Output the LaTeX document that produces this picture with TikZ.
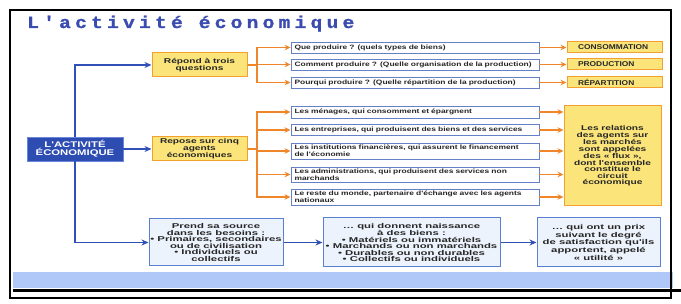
\documentclass[tikz,border=0pt]{standalone}
\usepackage{fontspec}
\setmainfont{Liberation Sans}
\newfontfamily\titlefont[UprightFont={* Bold},FakeBold=1.2,FakeStretch=1.15,LetterSpace=25]{Liberation Mono}
\newfontfamily\widefont[FakeStretch=1.45]{Liberation Sans}
\newfontfamily\widerfont[FakeStretch=1.62]{Liberation Sans}
\newfontfamily\smallfont[FakeStretch=1.34]{Liberation Sans}
\newfontfamily\capsfont[FakeStretch=1.2]{Liberation Sans}
\newfontfamily\mainfont[FakeStretch=1.38]{Liberation Sans}
\usetikzlibrary{arrows.meta}

\definecolor{titleblue}{HTML}{3A4CAF}
\definecolor{mainblue}{HTML}{2D4DB3}
\definecolor{mainedge}{HTML}{6A86D8}
\definecolor{linkblue}{HTML}{3050B8}
\definecolor{orng}{HTML}{F0862A}
\definecolor{yfill}{HTML}{FBE57A}
\definecolor{yedge}{HTML}{F2A030}
\definecolor{qedge}{HTML}{6680C8}
\definecolor{bfill}{HTML}{EDF3FC}
\definecolor{bedge}{HTML}{5B80D0}
\definecolor{band}{HTML}{AFC8F8}
\definecolor{ink}{HTML}{262626}

\begin{document}
\begin{tikzpicture}[x=1pt,y=-1pt,
  boxtext/.style={font=\widefont\bfseries\fontsize{7}{6.5}\selectfont, text=ink, align=center},
  ybox/.style={boxtext, draw=yedge, fill=yfill, line width=1pt, inner sep=0pt},
  bbox/.style={boxtext, font=\widerfont\bfseries\fontsize{7}{6.5}\selectfont,
    draw=bedge, fill=bfill, line width=1pt, inner sep=0pt},
  qbox/.style={draw=qedge, fill=white, line width=0.9pt, minimum width=248pt,
    inner xsep=3.5pt, inner ysep=0pt, text width=241pt, align=left, text=ink,
    font=\smallfont\bfseries\fontsize{6.3}{6.7}\selectfont},
  rbox/.style={draw=yedge, fill=yfill, line width=1pt, minimum width=95pt,
    minimum height=11pt, inner xsep=11pt, inner ysep=0pt, text width=73pt,
    align=left, text=ink, font=\capsfont\bfseries\fontsize{7}{7}\selectfont},
  mainbox/.style={draw=mainedge, fill=mainblue, line width=0.8pt, text=white,
    minimum width=96pt, minimum height=24pt, inner sep=0pt, align=center,
    font=\mainfont\bfseries\fontsize{8.2}{7}\selectfont},
  bline/.style={draw=linkblue, line width=1.8pt},
  barr/.style={bline, -{Stealth[length=7pt,width=6pt]}},
  oline/.style={draw=orng, line width=1.6pt},
  oarr/.style={oline, -{Stealth[length=6pt,width=5.5pt]}}]
\useasboundingbox (0,0) rectangle (681,304);

% bottom band and frame
\fill[band] (13,272) rectangle (673,288);
\draw[line width=2.5pt] (13,290.5) -- (681,290.5);
\draw[line width=1.3pt] (10,10) rectangle (671,298);

% title
\node[anchor=base west, inner sep=0pt, text=titleblue,
  font=\titlefont\fontsize{17}{17}\selectfont] (title) at (27,28)
  {L'activité économique};

% central box
\node[mainbox] (main) at (75,149) {L'ACTIVITÉ\\ÉCONOMIQUE};

% first level
\node[ybox, minimum width=95pt, minimum height=24pt] (q0) at (199.5,65)
  {Répond à trois\\questions};
\node[ybox, minimum width=95pt, minimum height=24pt] (a0) at (199.5,149)
  {Repose sur cinq\\agents\\économiques};

% three questions
\node[qbox, minimum height=11pt] (q1) at (415,47.5) {Que produire ? (quels types de biens)};
\node[qbox, minimum height=11pt] (q2) at (415,64.5) {Comment produire ? (Quelle organisation de la production)};
\node[qbox, minimum height=11pt] (q3) at (415,82.5) {Pourqui produire ? (Quelle répartition de la production)};

\node[rbox] (r1) at (614.5,47.5) {CONSOMMATION};
\node[rbox] (r2) at (614.5,64.5) {PRODUCTION};
\node[rbox] (r3) at (614.5,82.5) {RÉPARTITION};

% five agents
\node[qbox, minimum height=12pt] (g1) at (415,112) {Les ménages, qui consomment et épargnent};
\node[qbox, minimum height=11pt] (g2) at (415,130) {Les entreprises, qui produisent des biens et des services};
\node[qbox, minimum height=16pt] (g3) at (415,151) {Les institutions financières, qui assurent le financement\\de l'économie};
\node[qbox, minimum height=15pt] (g4) at (415,174.5) {Les administrations, qui produisent des services non\\marchands};
\node[qbox, minimum height=16pt] (g5) at (415,197) {Le reste du monde, partenaire d'échange avec les agents\\nationaux};

\node[ybox, minimum width=97pt, minimum height=100pt] (flux) at (612.5,156)
  {Les relations\\des agents sur\\les marchés\\sont appelées\\des « flux »,\\dont l'ensemble\\constitue le\\circuit\\économique};

% needs, goods, utility
\node[bbox, minimum width=134pt, minimum height=47pt] (needs) at (216,242.5)
  {Prend sa source\\dans les besoins :\\• Primaires, secondaires\\ou de civilisation\\• Individuels ou\\collectifs};
\node[bbox, minimum width=177pt, minimum height=49pt] (goods) at (411.5,242.5)
  {… qui donnent naissance\\à des biens :\\• Matériels ou immatériels\\• Marchands ou non marchands\\• Durables ou non durables\\• Collectifs ou individuels};
\node[bbox, minimum width=123pt, minimum height=49pt] (price) at (598.5,242.5)
  {… qui ont un prix\\suivant le degré\\de satisfaction qu'ils\\apportent, appelé\\« utilité »};

% blue connectors
\draw[barr] (main.north) |- (q0.west);
\draw[barr] (main.east) -- (a0.west);
\draw[barr] (main.south) |- (needs.west);
\draw[barr] (needs.east) -- (goods.west);
\draw[barr] (goods.east) -- (price.west);

% orange connectors: questions
\coordinate (qb) at (257,65);
\draw[oline] (q0.east) -- (qb);
\draw[oline, line cap=rect] (qb |- q1.west) -- (qb |- q3.west);
\foreach \n in {q1,q2,q3} \draw[oarr] (qb |- \n.west) -- (\n.west);
\draw[oarr] (q1.east) -- (r1.west);
\draw[oarr] (q2.east) -- (r2.west);
\draw[oarr] (q3.east) -- (r3.west);

% orange connectors: agents
\coordinate (ab) at (257,149);
\draw[oline] (a0.east) -- (ab);
\draw[oline, line cap=rect] (ab |- g1.west) -- (ab |- g5.west);
\foreach \n in {g1,g2,g3,g4,g5} {
  \draw[oarr] (ab |- \n.west) -- (\n.west);
  \draw[oarr] (\n.east) -- (\n.east -| flux.west);
}
\end{tikzpicture}
\end{document}
